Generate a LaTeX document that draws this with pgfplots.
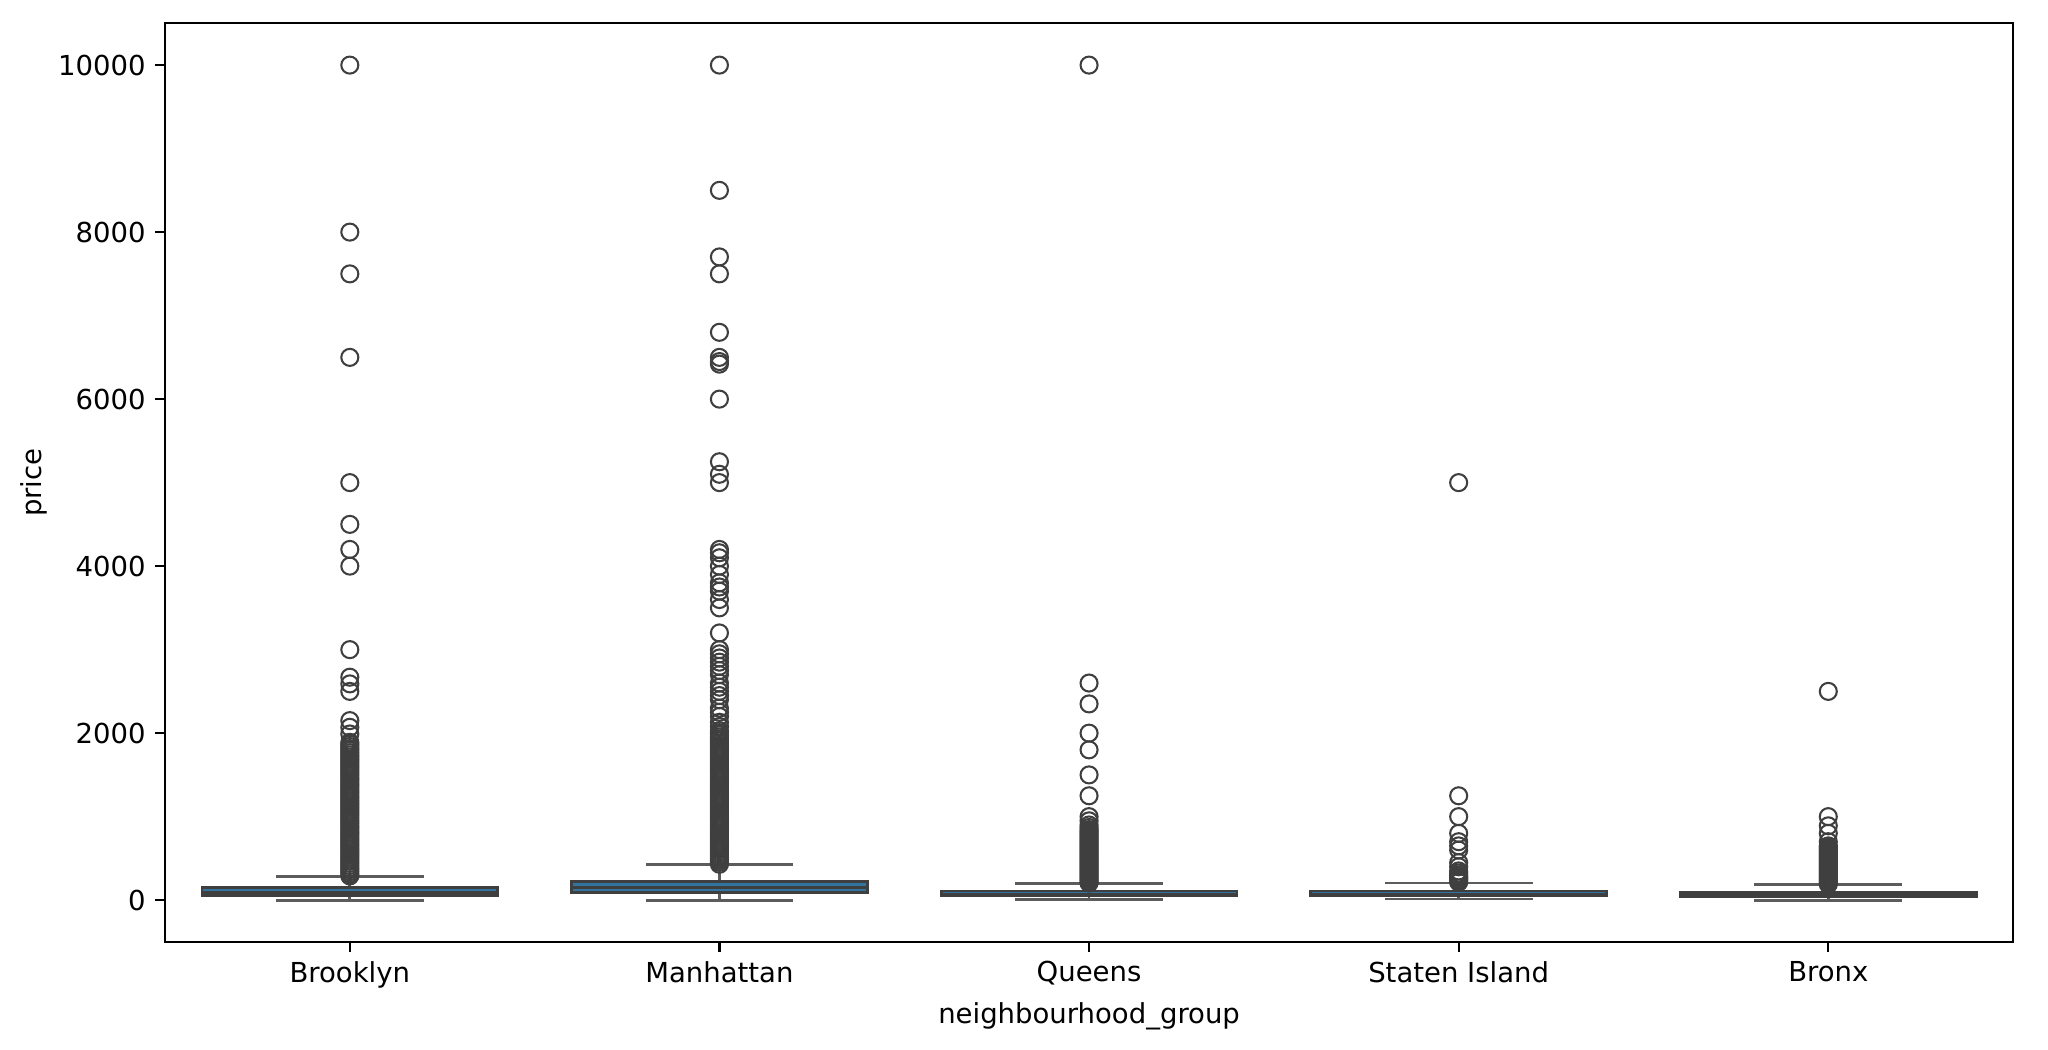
\documentclass[border=0pt]{standalone}
\usepackage{fontspec}
\setmainfont{DejaVu Sans}
\usepackage{pgfplots}
\pgfplotsset{compat=1.18}
\definecolor{boxblue}{RGB}{50,116,161}
\definecolor{edgecol}{RGB}{63,63,63}
\pgfplotsset{
  whisk/.style={draw=edgecol!85, line width=1pt, mark=none, unbounded coords=jump},
  boxs/.style={fill=boxblue, draw=edgecol, line width=1pt, mark=none, line join=miter},
  med/.style={draw=edgecol, line width=1pt, mark=none},
  flier/.style={only marks, mark=o, mark size=3.1pt,
    mark options={draw=edgecol, line width=0.75pt, fill=none}},
}
\begin{document}
\begin{tikzpicture}
\begin{axis}[
  scale only axis,
  width=672pt, height=334pt,
  xmin=-0.5, xmax=4.5,
  ymin=-500, ymax=10500,
  xtick={0,1,2,3,4},
  xticklabels={Brooklyn,Manhattan,Queens,Staten Island,Bronx},
  ytick={0,2000,4000,6000,8000,10000},
  scaled y ticks=false,
  yticklabel style={/pgf/number format/fixed, /pgf/number format/1000 sep={}},
  /pgf/number format/1000 sep={},
  /pgf/number format/assume math mode=true,
  tick align=outside,
  major tick length=3.5pt,
  tick style={black, line width=0.8pt},
  xtick pos=bottom, ytick pos=left,
  axis line style={black, line width=0.8pt},
  xlabel={neighbourhood\_group},
  ylabel={price},
  xlabel style={at={(axis description cs:0.5,-0.081)}, anchor=center},
  ylabel style={at={(axis description cs:-0.0711,0.5)}, anchor=center},
  clip=false,
]
% ---- whiskers and caps (lower whisker, Q1, Q3, upper whisker) ----
% Brooklyn: 0, 60, 150, 285
\addplot[whisk] coordinates {(0,0) (0,60) (nan,nan) (0,150) (0,285) (nan,nan) (-0.2,0) (0.2,0) (nan,nan) (-0.2,285) (0.2,285)};
% Manhattan: 0, 95, 222, 425
\addplot[whisk] coordinates {(1,0) (1,95) (nan,nan) (1,222) (1,425) (nan,nan) (0.8,0) (1.2,0) (nan,nan) (0.8,425) (1.2,425)};
% Queens: 10, 50, 110, 200
\addplot[whisk] coordinates {(2,10) (2,50) (nan,nan) (2,110) (2,200) (nan,nan) (1.8,10) (2.2,10) (nan,nan) (1.8,200) (2.2,200)};
% Staten Island: 13, 50, 110, 205
\addplot[whisk] coordinates {(3,13) (3,50) (nan,nan) (3,110) (3,205) (nan,nan) (2.8,13) (3.2,13) (nan,nan) (2.8,205) (3.2,205)};
% Bronx: 0, 45, 99, 185
\addplot[whisk] coordinates {(4,0) (4,45) (nan,nan) (4,99) (4,185) (nan,nan) (3.8,0) (4.2,0) (nan,nan) (3.8,185) (4.2,185)};
% ---- boxes (Q1 to Q3) ----
\addplot[boxs] coordinates {(-0.4,60) (0.4,60) (0.4,150) (-0.4,150) (-0.4,60)} -- cycle;
\addplot[boxs] coordinates {(0.6,95) (1.4,95) (1.4,222) (0.6,222) (0.6,95)} -- cycle;
\addplot[boxs] coordinates {(1.6,50) (2.4,50) (2.4,110) (1.6,110) (1.6,50)} -- cycle;
\addplot[boxs] coordinates {(2.6,50) (3.4,50) (3.4,110) (2.6,110) (2.6,50)} -- cycle;
\addplot[boxs] coordinates {(3.6,45) (4.4,45) (4.4,99) (3.6,99) (3.6,45)} -- cycle;
% ---- medians ----
\addplot[med] coordinates {(-0.4,90) (0.4,90)};
\addplot[med] coordinates {(0.6,150) (1.4,150)};
\addplot[med] coordinates {(1.6,75) (2.4,75)};
\addplot[med] coordinates {(2.6,75) (3.4,75)};
\addplot[med] coordinates {(3.6,65) (4.4,65)};

% Brooklyn outliers
\addplot[flier] table[x=x,y=y] {
x y
0 290
0 315
0 340
0 365
0 390
0 415
0 440
0 465
0 490
0 515
0 540
0 565
0 590
0 615
0 640
0 665
0 690
0 715
0 740
0 765
0 790
0 815
0 840
0 865
0 890
0 915
0 940
0 965
0 990
0 1015
0 1040
0 1065
0 1090
0 1115
0 1140
0 1165
0 1190
0 1215
0 1240
0 1265
0 1290
0 1315
0 1340
0 1365
0 1390
0 1415
0 1440
0 1465
0 1490
0 1515
0 1540
0 1565
0 1590
0 1615
0 1640
0 1665
0 1690
0 1715
0 1740
0 1765
0 1790
0 1815
0 1840
0 1865
0 1890
0 1990
0 2070
0 2150
0 2500
0 2590
0 2670
0 3000
0 4000
0 4200
0 4500
0 5000
0 6500
0 7500
0 8000
0 10000
};
% Manhattan outliers
\addplot[flier] table[x=x,y=y] {
x y
1 430
1 455
1 480
1 505
1 530
1 555
1 580
1 605
1 630
1 655
1 680
1 705
1 730
1 755
1 780
1 805
1 830
1 855
1 880
1 905
1 930
1 955
1 980
1 1005
1 1030
1 1055
1 1080
1 1105
1 1130
1 1155
1 1180
1 1205
1 1230
1 1255
1 1280
1 1305
1 1330
1 1355
1 1380
1 1405
1 1430
1 1455
1 1480
1 1505
1 1530
1 1555
1 1580
1 1605
1 1630
1 1655
1 1680
1 1705
1 1730
1 1755
1 1780
1 1805
1 1830
1 1855
1 1880
1 1905
1 1930
1 1955
1 1980
1 2005
1 2030
1 2080
1 2130
1 2200
1 2250
1 2300
1 2400
1 2450
1 2500
1 2550
1 2600
1 2700
1 2750
1 2800
1 2850
1 2900
1 2950
1 3000
1 3200
1 3500
1 3600
1 3700
1 3750
1 3800
1 3900
1 4000
1 4100
1 4160
1 4200
1 5000
1 5100
1 5250
1 6000
1 6419
1 6450
1 6500
1 6800
1 7500
1 7703
1 8500
1 10000
};
% Queens outliers
\addplot[flier] table[x=x,y=y] {
x y
2 205
2 225
2 245
2 265
2 285
2 305
2 325
2 345
2 365
2 385
2 405
2 425
2 445
2 465
2 485
2 505
2 525
2 545
2 565
2 585
2 605
2 625
2 645
2 665
2 685
2 705
2 725
2 745
2 765
2 785
2 805
2 825
2 845
2 870
2 900
2 950
2 1000
2 1250
2 1500
2 1800
2 2000
2 2350
2 2600
2 10000
};
% Staten Island outliers
\addplot[flier] table[x=x,y=y] {
x y
3 215
3 230
3 250
3 265
3 280
3 300
3 325
3 350
3 400
3 450
3 600
3 650
3 700
3 800
3 1000
3 1250
3 5000
};
% Bronx outliers
\addplot[flier] table[x=x,y=y] {
x y
4 190
4 210
4 230
4 250
4 270
4 290
4 310
4 330
4 350
4 370
4 390
4 410
4 430
4 450
4 470
4 490
4 510
4 530
4 550
4 570
4 590
4 610
4 630
4 650
4 700
4 800
4 890
4 1000
4 2500
};
\end{axis}
\path ([xshift=-60pt,yshift=-39pt]current axis.south west) rectangle ([xshift=12.7pt,yshift=8.5pt]current axis.north east);
\end{tikzpicture}
\end{document}
